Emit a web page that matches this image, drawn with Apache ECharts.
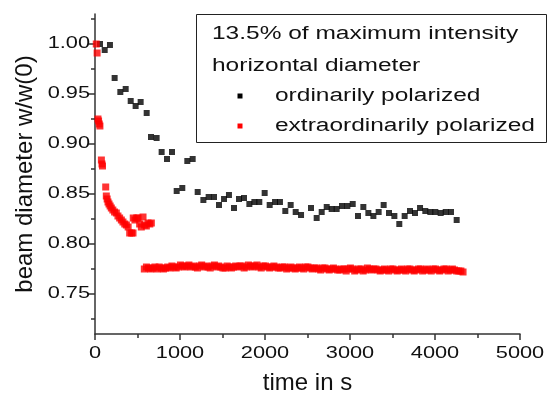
<!DOCTYPE html>
<html>
<head>
<meta charset="utf-8">
<script src="https://cdn.jsdelivr.net/npm/echarts@6/dist/echarts.min.js"></script>
<style>
html, body { margin: 0; padding: 0; background: #fff; }
#chart { width: 547px; height: 397px; }
</style>
</head>
<body>
<div id="chart"></div>
<script>
// time in s / beam diameter w/w(0)
var ordT = [59, 114, 176, 231, 298, 361, 420, 478, 537, 608, 659, 725, 784, 847, 906, 961, 1027, 1086, 1149, 1208,
    1275, 1337, 1400, 1459, 1518, 1576, 1635, 1694, 1753, 1816, 1875, 1933, 1996, 2055, 2118, 2176, 2239, 2302, 2361, 2424,
    2541, 2608, 2667, 2726, 2784, 2843, 2906, 2969, 3032, 3094, 3157, 3216, 3275, 3337, 3396, 3459, 3522, 3580, 3643, 3706,
    3765, 3824, 3886, 3945, 4004, 4067, 4126, 4188, 4255];
var ordD = [1.000, 0.994, 0.999, 0.966, 0.952, 0.955, 0.943, 0.938, 0.942, 0.931, 0.907, 0.906, 0.892, 0.885, 0.892, 0.853, 0.856, 0.883, 0.885, 0.852,
    0.844, 0.847, 0.847, 0.839, 0.845, 0.849, 0.836, 0.845, 0.846, 0.840, 0.842, 0.842, 0.851, 0.839, 0.842, 0.842, 0.833, 0.839, 0.832, 0.829,
    0.836, 0.826, 0.832, 0.837, 0.835, 0.835, 0.838, 0.838, 0.840, 0.828, 0.837, 0.831, 0.828, 0.832, 0.839, 0.831, 0.828, 0.820, 0.828, 0.833,
    0.831, 0.836, 0.833, 0.832, 0.832, 0.831, 0.832, 0.832, 0.824];

// extraordinarily polarized, first minutes
var extT = [15, 25, 35, 42, 50, 58, 75, 82, 88, 126, 133, 143, 153, 165, 178, 192, 210, 230, 251, 270,
    290, 310, 329, 350, 369, 390, 408, 430, 447, 450, 470, 490, 506, 525, 545, 565, 584, 604, 624, 645, 663];
var extD = [1.000, 0.991, 0.925, 0.923, 0.920, 0.918, 0.884, 0.880, 0.878, 0.857, 0.848, 0.845, 0.842, 0.840, 0.838, 0.836, 0.834, 0.832, 0.831, 0.828,
    0.826, 0.824, 0.822, 0.820, 0.819, 0.817, 0.811, 0.811, 0.811, 0.826, 0.824, 0.826, 0.826, 0.820, 0.817, 0.827, 0.819, 0.818, 0.821, 0.820, 0.821];

// extraordinarily polarized, flat band (dense)
var bandT = [580, 605, 630, 655, 680, 705, 730, 755, 780, 805, 830, 855, 880, 905, 930, 955, 980, 1005, 1030, 1055,
    1080, 1105, 1130, 1155, 1180, 1205, 1230, 1255, 1280, 1305, 1330, 1355, 1380, 1405, 1430, 1455, 1480, 1505, 1530, 1555,
    1580, 1605, 1630, 1655, 1680, 1705, 1730, 1755, 1780, 1805, 1830, 1855, 1880, 1905, 1930, 1955, 1980, 2005, 2030, 2055,
    2080, 2105, 2130, 2155, 2180, 2205, 2230, 2255, 2280, 2305, 2330, 2355, 2380, 2405, 2430, 2455, 2480, 2505, 2530, 2555,
    2580, 2605, 2630, 2655, 2680, 2705, 2730, 2755, 2780, 2805, 2830, 2855, 2880, 2905, 2930, 2955, 2980, 3005, 3030, 3055,
    3080, 3105, 3130, 3155, 3180, 3205, 3230, 3255, 3280, 3305, 3330, 3355, 3380, 3405, 3430, 3455, 3480, 3505, 3530, 3555,
    3580, 3605, 3630, 3655, 3680, 3705, 3730, 3755, 3780, 3805, 3830, 3855, 3880, 3905, 3930, 3955, 3980, 4005, 4030, 4055,
    4080, 4105, 4130, 4155, 4180, 4205, 4230, 4255, 4280, 4305, 4330];
var bandD = [0.775, 0.777, 0.776, 0.775, 0.776, 0.777, 0.775, 0.777, 0.776, 0.775, 0.776, 0.777, 0.776, 0.778, 0.777, 0.776, 0.777, 0.779, 0.778, 0.777,
    0.778, 0.779, 0.777, 0.778, 0.777, 0.776, 0.778, 0.779, 0.777, 0.778, 0.777, 0.776, 0.778, 0.779, 0.777, 0.778, 0.777, 0.776, 0.776, 0.778,
    0.777, 0.776, 0.777, 0.778, 0.777, 0.778, 0.778, 0.776, 0.777, 0.779, 0.778, 0.777, 0.778, 0.779, 0.777, 0.776, 0.778, 0.778, 0.777, 0.776,
    0.777, 0.778, 0.777, 0.776, 0.776, 0.777, 0.777, 0.775, 0.776, 0.777, 0.776, 0.775, 0.776, 0.777, 0.776, 0.775, 0.777, 0.777, 0.776, 0.775,
    0.776, 0.776, 0.775, 0.774, 0.776, 0.776, 0.775, 0.774, 0.775, 0.776, 0.775, 0.774, 0.774, 0.775, 0.775, 0.773, 0.775, 0.776, 0.775, 0.773,
    0.774, 0.775, 0.775, 0.773, 0.774, 0.776, 0.775, 0.774, 0.775, 0.775, 0.774, 0.773, 0.774, 0.775, 0.774, 0.773, 0.775, 0.775, 0.774, 0.773,
    0.774, 0.775, 0.774, 0.773, 0.775, 0.775, 0.774, 0.773, 0.774, 0.775, 0.775, 0.773, 0.774, 0.775, 0.774, 0.773, 0.775, 0.775, 0.774, 0.773,
    0.774, 0.775, 0.775, 0.773, 0.774, 0.775, 0.774, 0.773, 0.773, 0.773, 0.772];

var xLabels = [0, 1000, 2000, 3000, 4000, 5000];
var yLabels = [0.75, 0.80, 0.85, 0.90, 0.95, 1.00];
var yMinor = [0.725, 0.775, 0.825, 0.875, 0.925, 0.975, 1.025];

function pairs(t, d) {
    var out = [];
    for (var i = 0; i < t.length; i++) {
        out.push([t[i], d[i]]);
    }
    return out;
}

var font = '"Liberation Sans", Arial, Helvetica, sans-serif';
var axisColor = '#333';
var textColor = '#111';
var wide = 1.36; // the reference text is drawn horizontally stretched

var mychart = echarts.init(document.getElementById('chart'));
var option = {
    animation: false,
    textStyle: { fontFamily: font },
    grid: { left: 95, right: 27, top: 14, bottom: 63, outerBoundsMode: 'none' },
    xAxis: {
        type: 'value',
        min: 0,
        max: 5000,
        interval: 1000,
        name: 'time in s',
        nameLocation: 'middle',
        nameGap: 37,
        nameTextStyle: { fontSize: 24, color: textColor, fontFamily: font },
        axisLine: { onZero: false, lineStyle: { color: axisColor, width: 1.5 } },
        axisTick: { length: 6, lineStyle: { color: axisColor, width: 1.5 } },
        minorTick: { show: true, splitNumber: 2, length: 4, lineStyle: { color: axisColor, width: 1.5 } },
        axisLabel: { show: false },
        splitLine: { show: false }
    },
    yAxis: [
        {
            type: 'value',
            min: 0.71,
            max: 1.03,
            name: 'beam diameter w/w(0)',
            nameLocation: 'middle',
            nameGap: 58,
            nameTextStyle: { fontSize: 24, color: textColor, fontFamily: font },
            axisLine: { show: true, onZero: false, lineStyle: { color: axisColor, width: 1.5 } },
            axisTick: { show: true, length: 6, customValues: yLabels, lineStyle: { color: axisColor, width: 1.5 } },
            axisLabel: { show: false },
            splitLine: { show: false }
        },
        {
            type: 'value',
            position: 'left',
            min: 0.71,
            max: 1.03,
            axisLine: { show: false },
            axisTick: { show: true, length: 4, customValues: yMinor, lineStyle: { color: axisColor, width: 1.5 } },
            axisLabel: { show: false },
            splitLine: { show: false }
        }
    ],
    series: [
        {
            name: 'ordinarily polarized',
            type: 'scatter',
            symbol: 'rect',
            symbolSize: 6,
            itemStyle: { color: '#000' },
            data: pairs(ordT, ordD)
        },
        {
            name: 'extraordinarily polarized',
            type: 'scatter',
            symbol: 'rect',
            symbolSize: 7,
            itemStyle: { color: '#ff0000' },
            data: pairs(extT, extD).concat(pairs(bandT, bandD))
        }
    ]
};
mychart.setOption(option, true);

// stretched tick labels and the legend box, placed through the axes
var x0 = mychart.convertToPixel({ xAxisIndex: 0 }, 0);
var yBottom = mychart.convertToPixel({ yAxisIndex: 0 }, 0.71);
var gr = [];
for (var i = 0; i < yLabels.length; i++) {
    gr.push({
        type: 'text',
        x: x0 - 5,
        y: mychart.convertToPixel({ yAxisIndex: 0 }, yLabels[i]),
        scaleX: wide,
        style: { text: yLabels[i].toFixed(2), font: '16px ' + font, fill: textColor, align: 'right', verticalAlign: 'middle' }
    });
}
for (var j = 0; j < xLabels.length; j++) {
    gr.push({
        type: 'text',
        x: mychart.convertToPixel({ xAxisIndex: 0 }, xLabels[j]),
        y: yBottom + 20,
        scaleX: wide,
        style: { text: String(xLabels[j]), font: '16px ' + font, fill: textColor, align: 'center', verticalAlign: 'middle' }
    });
}
gr.push({
    type: 'rect',
    shape: { x: 196.5, y: 14.5, width: 350, height: 128 },
    style: { fill: 'none', stroke: '#222', lineWidth: 1 }
});
gr.push({
    type: 'text', x: 212, y: 18, scaleX: wide,
    style: { text: '13.5% of maximum intensity\nhorizontal diameter', font: '18px ' + font, lineHeight: 32, fill: textColor }
});
var legendNames = ['ordinarily polarized', 'extraordinarily polarized'];
var legendColors = ['#000', '#ff0000'];
var legendY = [96, 126];
for (var k = 0; k < legendNames.length; k++) {
    gr.push({
        type: 'rect',
        shape: { x: 237.5, y: legendY[k] - 2.5, width: 5, height: 5 },
        style: { fill: legendColors[k] }
    });
    gr.push({
        type: 'text', x: 275, y: legendY[k], scaleX: wide,
        style: { text: legendNames[k], font: '18px ' + font, fill: textColor, verticalAlign: 'middle' }
    });
}
mychart.setOption({ graphic: gr });
</script>
</body>
</html>
